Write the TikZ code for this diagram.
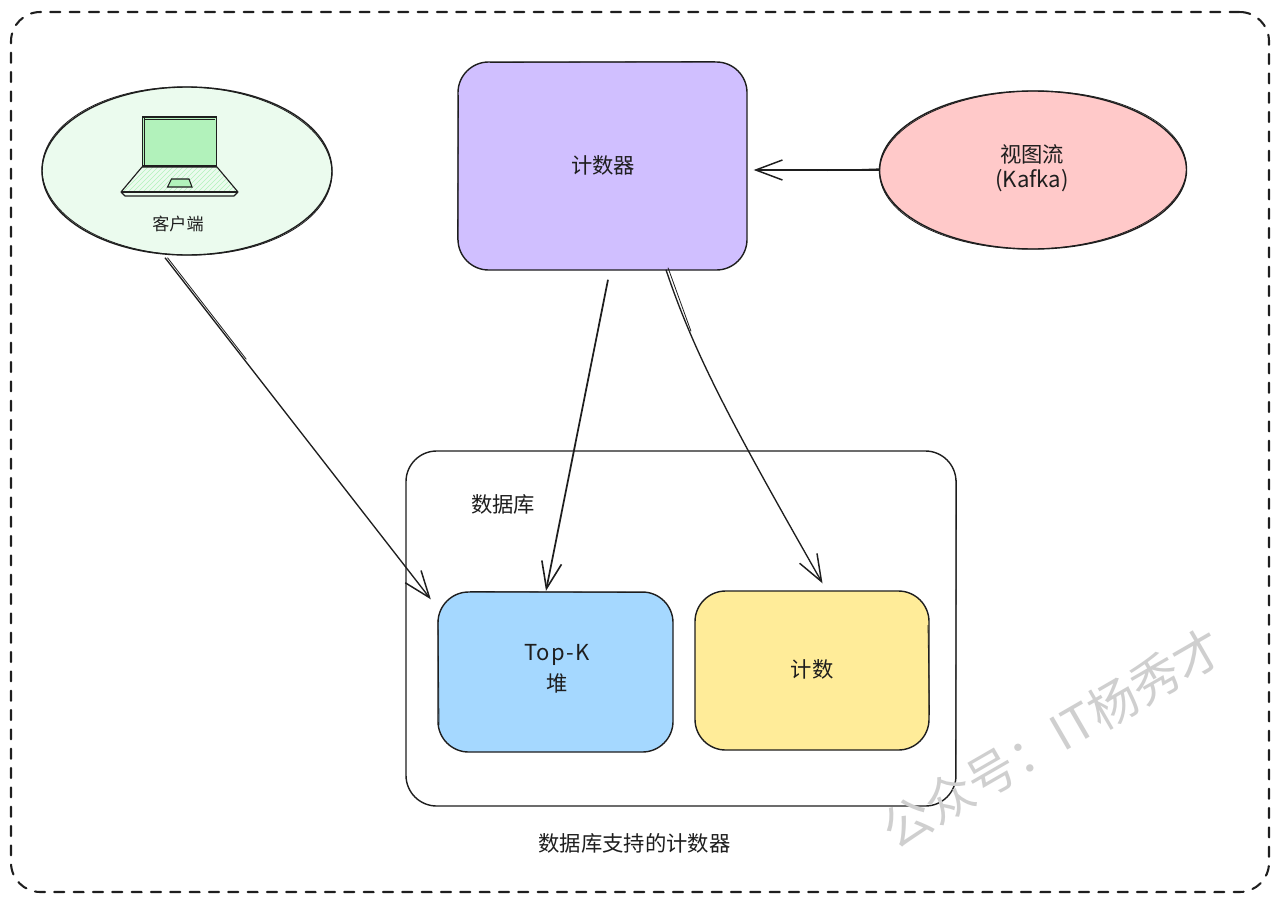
\documentclass[tikz,border=0pt]{standalone}
\usepackage{fontspec}
\setmainfont{Noto Sans CJK SC}
\usetikzlibrary{arrows.meta,shapes.geometric}
\definecolor{ink}{HTML}{1E1E1E}
\definecolor{clientfill}{HTML}{EBFBEE}
\definecolor{screenfill}{HTML}{B2F2BB}
\definecolor{counterfill}{HTML}{D0BFFF}
\definecolor{kafkafill}{HTML}{FFC9C9}
\definecolor{topkfill}{HTML}{A5D8FF}
\definecolor{countfill}{HTML}{FFEC99}
\definecolor{wm}{HTML}{CFCFCF}
\tikzset{
  line/.style={draw=ink,line width=1.05pt},
  sketch/.style={draw=ink,line width=0.6pt},
  card/.style={line,rounded corners=23pt,inner sep=0pt,align=center},
  oval/.style={line,ellipse,inner sep=0pt,align=center},
  label/.style={font=\fontsize{16}{20}\selectfont,text=ink,inner sep=0pt},
  arrow/.style={draw=ink,line width=1.3pt,-{Straight Barb[length=20pt,width=15pt,line width=1.2pt]}},
  arrowthin/.style={draw=ink,line width=1pt,-{Straight Barb[length=20pt,width=15pt,line width=1.1pt]}},
  echo/.style={draw=ink,line width=0.6pt}
}
\begin{document}
\begin{tikzpicture}[x=0.75pt,y=-0.75pt]
\useasboundingbox (0,0) rectangle (1280,903);
\fill[white] (0,0) rectangle (1280,903);
% frame
\node[draw=ink,line width=1.55pt,line cap=round,dash pattern=on 7.6pt off 6.9pt,rounded corners=22pt,inner sep=0pt,
      minimum width=1258*0.75pt,minimum height=880*0.75pt] (frame) at (640,452) {};
% database container
\node[card,minimum width=550*0.75pt,minimum height=355*0.75pt] (db) at (681,628.5) {};
\draw[sketch] (956.5,480) -- (955.5,780);
% client
\node[oval,fill=clientfill,minimum width=290*0.75pt,minimum height=168*0.75pt] (client) at (187,171) {};
\draw[sketch] (187,171) ellipse [x radius=145,y radius=84,rotate=-1.2];
% laptop
\fill[screenfill] (143,117) rectangle (216,165);
\draw[line,line width=1.4pt] (142.5,116.8) rectangle (216.5,166);
\draw[ink,line width=0.7pt] (144,119) -- (215,119);
\draw[ink,line width=0.6pt] (144.3,118) -- (144.3,165);
\begin{scope}
  \clip (142,167) -- (217,167) -- (238,192) -- (121,192) -- cycle;
  \foreach \k in {0,5,...,130}{
    \draw[screenfill,line width=0.5pt] (110+\k,195) -- (142+\k,163);
  }
\end{scope}
\draw[line,line width=0.85pt,line join=round] (142,167) -- (217,167) -- (238,192) -- (234,196) -- (125,196) -- (121,192) -- cycle;
\draw[ink,line width=0.8pt] (121,192) -- (238,192);
\draw[line,line width=0.8pt,fill=screenfill] (171.5,179) -- (189,179) -- (192,187) -- (167.5,187) -- cycle;
\node[label,font=\fontsize{12.8}{16}\selectfont] (clientlabel) at (178,224) {客户端};
% counter
\node[card,fill=counterfill,minimum width=289*0.75pt,minimum height=208*0.75pt] (counter) at (602.5,166) {};
\draw[sketch] (490,62.5) -- (715,61.5);
\draw[sketch] (458.5,95) -- (457.5,240);
\node[label] (counterlabel) at (603,165) {计数器};
% kafka
\node[oval,fill=kafkafill,minimum width=307*0.75pt,minimum height=158*0.75pt] (kafka) at (1033,170) {};
\draw[sketch] (1033,170) ellipse [x radius=153.5,y radius=79,rotate=1];
\node[label] (kafkaname) at (1032,154) {视图流};
\node[label,font=\fontsize{16.6}{20}\selectfont] (kafkasub) at (1032,181) {(Kafka)};
% db contents
\node[label] (dblabel) at (503,504) {数据库};
\node[card,fill=topkfill,minimum width=235*0.75pt,minimum height=160*0.75pt] (topk) at (555.5,672) {};
\draw[sketch] (470,591.5) -- (645,592.5);
\draw[sketch] (438,620) -- (439,725);
\node[label,font=\fontsize{16.5}{20}\selectfont\addfontfeature{LetterSpace=6}] (topkname) at (557,655) {Top-K};
\node[label] (topkheap) at (557,683) {堆};
\node[card,fill=countfill,minimum width=234*0.75pt,minimum height=159*0.75pt] (count) at (812,670.5) {};
\draw[sketch] (928,625) -- (929.5,715);
\node[label] (countlabel) at (812,669) {计数};
\node[label] (caption) at (634.5,843) {数据库支持的计数器};
% connectors
\draw[arrowthin] ([shift={(-22,2)}]client.south) -- ([shift={(-6.5,8)}]topk.north west);
\draw[echo] ([shift={(-19.5,2)}]client.south) -- ([shift={(-191,-232)}]topk.north west);
\draw[arrow] ([shift={(5.5,9)}]counter.south) -- ([shift={(-9.5,-0.5)}]topk.north);
\draw[arrowthin] ([shift={(63.5,-1)}]counter.south) .. controls +(29,87) and +(-87,-153) .. ([shift={(10.5,-7)}]count.north);
\draw[echo] ([shift={(65.5,-3)}]counter.south) -- ([shift={(-121,-259)}]count.north);
\draw[arrowthin] (kafka.west) -- ([shift={(6,4)}]counter.east);
\draw[echo] ([yshift=0.9pt]kafka.west) -- ([shift={(80,4.6)}]counter.east);
% watermark
\node[rotate=30,text=wm,font=\fontsize{36.5}{40}\selectfont,inner sep=0pt] (watermark) at (1052,738) {公众号：IT杨秀才};
\end{tikzpicture}
\end{document}
